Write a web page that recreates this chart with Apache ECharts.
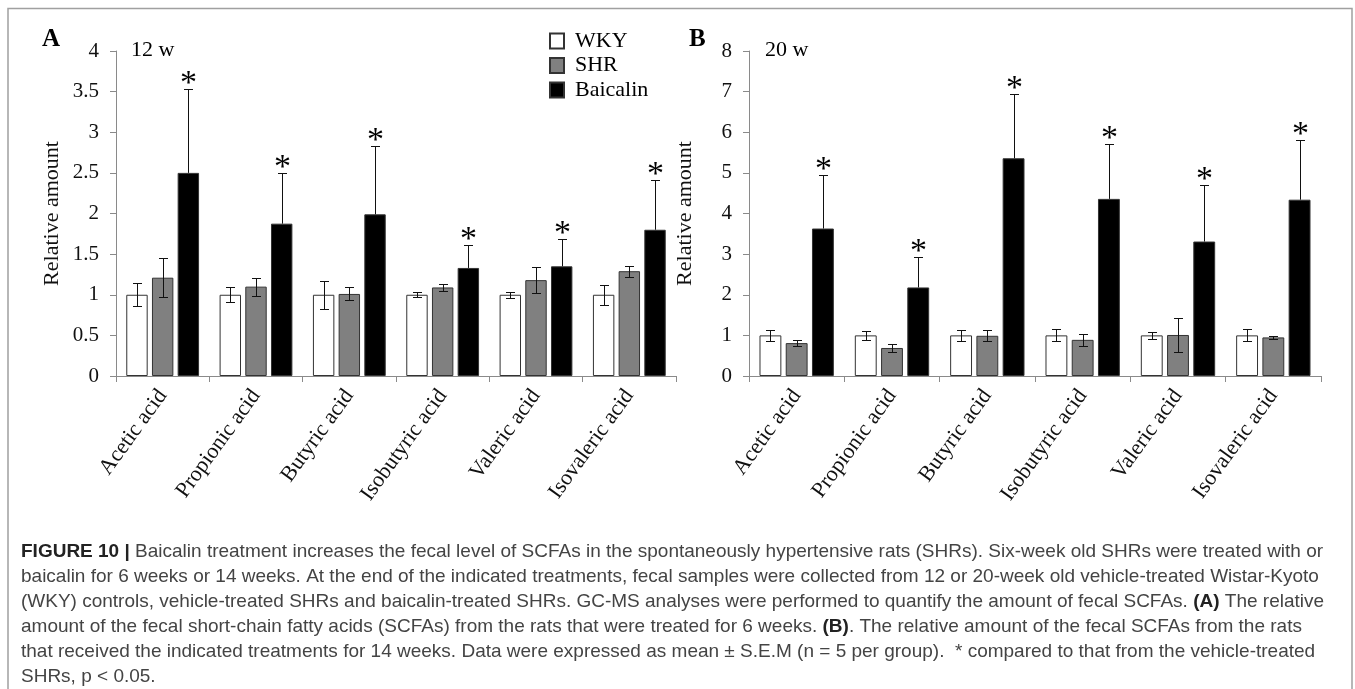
<!DOCTYPE html>
<html><head><meta charset="utf-8">
<script src="https://cdn.jsdelivr.net/npm/echarts@6/dist/echarts.min.js"></script>
<style>html,body{margin:0;padding:0;background:#fff}#c{width:1355px;height:689px}</style>
</head><body><div id="c"></div>
<script>
// ---------- data ----------
const categories = ['Acetic acid','Propionic acid','Butyric acid','Isobutyric acid','Valeric acid','Isovaleric acid'];
const groups = ['WKY','SHR','Baicalin'];

// Panel A (12 w)
const wkyA      = [1.00, 1.00, 1.00, 1.00, 1.00, 1.00];
const wkyA_sem  = [0.14, 0.09, 0.17, 0.03, 0.04, 0.12];
const shrA      = [1.21, 1.10, 1.01, 1.09, 1.18, 1.29];
const shrA_sem  = [0.24, 0.11, 0.08, 0.04, 0.16, 0.07];
const baiA      = [2.50, 1.875, 1.99, 1.33, 1.35, 1.80];
const baiA_sem  = [1.03, 0.625, 0.84, 0.28, 0.34, 0.61];
const starA     = [1, 1, 1, 1, 1, 1];

// Panel B (20 w)
const wkyB      = [1.00, 1.00, 1.00, 1.00, 1.00, 1.00];
const wkyB_sem  = [0.13, 0.11, 0.13, 0.15, 0.08, 0.15];
const shrB      = [0.81, 0.69, 0.99, 0.89, 1.01, 0.95];
const shrB_sem  = [0.07, 0.10, 0.14, 0.15, 0.42, 0.04];
const baiB      = [3.63, 2.18, 5.36, 4.36, 3.31, 4.34];
const baiB_sem  = [1.31, 0.75, 1.57, 1.36, 1.39, 1.46];
const starB     = [1, 1, 1, 1, 1, 1];

const yMaxA = 4, yStepA = 0.5;
const yMaxB = 8, yStepB = 1;

const captionLines = [
  '{b|FIGURE 10 |} Baicalin treatment increases the fecal level of SCFAs in the spontaneously hypertensive rats (SHRs). Six-week old SHRs were treated with or',
  'baicalin for 6 weeks or 14 weeks. At the end of the indicated treatments, fecal samples were collected from 12 or 20-week old vehicle-treated Wistar-Kyoto',
  '(WKY) controls, vehicle-treated SHRs and baicalin-treated SHRs. GC-MS analyses were performed to quantify the amount of fecal SCFAs. {b|(A)} The relative',
  'amount of the fecal short-chain fatty acids (SCFAs) from the rats that were treated for 6 weeks. {b|(B)}. The relative amount of the fecal SCFAs from the rats',
  'that received the indicated treatments for 14 weeks. Data were expressed as mean \u00b1 S.E.M (n = 5 per group).  * compared to that from the vehicle-treated',
  'SHRs, p < 0.05.'
];

// ---------- styling ----------
const SERIF = '"Liberation Serif","Times New Roman",serif';
const SANS = '"Liberation Sans",Arial,sans-serif';
const BAR_CAT_GAP = 0.22, BAR_GAP = 0.2;
const fills = ['#ffffff', '#808080', '#000000'];

function errData(means, sems, stars) {
  const out = [];
  means.forEach((m, gi) => {
    m.forEach((v, ci) => out.push([ci, gi, v, sems[gi][ci], gi === 2 ? stars[ci] : 0]));
  });
  return out;
}

function errRender(params, api) {
  const cat = api.value(0), g = api.value(1), mean = api.value(2), sem = api.value(3), star = api.value(4);
  const catW = api.size([1, 0])[0];
  const barW = catW * (1 - BAR_CAT_GAP) / (3 + 2 * BAR_GAP);
  const x = Math.round(api.coord([cat, 0])[0] + (g - 1) * barW * (1 + BAR_GAP)) + 0.5;
  const yTop = Math.round(api.coord([cat, mean + sem])[1]) + 0.5;
  const yMid = api.coord([cat, mean])[1];
  const yBot = Math.round(api.coord([cat, mean - sem])[1]) + 0.5;
  const cap = 4.5;
  const st = { stroke: '#111', lineWidth: 1 };
  const ch = [];
  ch.push({ type: 'line', shape: { x1: x, y1: yTop, x2: x, y2: g === 2 ? yMid : yBot }, style: st });
  ch.push({ type: 'line', shape: { x1: x - cap, y1: yTop, x2: x + cap, y2: yTop }, style: st });
  if (g !== 2) ch.push({ type: 'line', shape: { x1: x - cap, y1: yBot, x2: x + cap, y2: yBot }, style: st });
  if (star) ch.push({ type: 'text', style: { text: '*', x: x, y: yTop - 5, align: 'center', verticalAlign: 'middle', fontSize: 34, fontFamily: SERIF, fill: '#000' } });
  return { type: 'group', children: ch };
}

function xAxis(gi) {
  return {
    type: 'category', gridIndex: gi, data: categories,
    axisLine: { lineStyle: { color: '#8a8a8a', width: 1 } },
    axisTick: { show: true, length: 6, lineStyle: { color: '#8a8a8a' } },
    axisLabel: { interval: 0, rotate: 54, margin: 16, fontFamily: SERIF, fontSize: 22, color: '#111' },
    splitLine: { show: false }
  };
}
function yAxis(gi, max, step) {
  return {
    type: 'value', gridIndex: gi, min: 0, max: max, interval: step,
    name: 'Relative amount', nameLocation: 'middle', nameGap: 53,
    nameTextStyle: { fontFamily: SERIF, fontSize: 22, color: '#111' },
    axisLine: { show: true, lineStyle: { color: '#8a8a8a', width: 1 } },
    axisTick: { show: true, length: 6, lineStyle: { color: '#8a8a8a' } },
    axisLabel: { margin: 17, fontFamily: SERIF, fontSize: 21, color: '#111' },
    splitLine: { show: false }
  };
}
function bars(gi, vals, k) {
  return {
    type: 'bar', name: groups[k], xAxisIndex: gi, yAxisIndex: gi, data: vals,
    barCategoryGap: (BAR_CAT_GAP * 100) + '%', barGap: (BAR_GAP * 100) + '%',
    itemStyle: { color: fills[k], borderColor: '#333', borderWidth: 1 },
    emphasis: { disabled: true }, animation: false
  };
}

const chart = echarts.init(document.getElementById('c'), null, { renderer: 'canvas' });

const graphic = [
  { type: 'rect', shape: { x: 8, y: 8.5, width: 1344, height: 700 }, style: { fill: 'none', stroke: '#a0a0a0', lineWidth: 1.5 }, silent: true },
  { type: 'text', style: { text: 'A', x: 42, y: 40, verticalAlign: 'middle', fontSize: 25, fontWeight: 'bold', fontFamily: SERIF, fill: '#000' } },
  { type: 'text', style: { text: 'B', x: 689, y: 40, verticalAlign: 'middle', fontSize: 25, fontWeight: 'bold', fontFamily: SERIF, fill: '#000' } },
  { type: 'text', style: { text: '12 w', x: 131, y: 50, verticalAlign: 'middle', fontSize: 22, fontFamily: SERIF, fill: '#000' } },
  { type: 'text', style: { text: '20 w', x: 765, y: 50, verticalAlign: 'middle', fontSize: 22, fontFamily: SERIF, fill: '#000' } }
];
captionLines.forEach((t, i) => {
  graphic.push({
    type: 'text', silent: true,
    style: {
      text: t, x: 21, y: 552 + i * 25, verticalAlign: 'middle',
      fontSize: 19, fontFamily: SANS, fill: '#444',
      rich: { b: { fontWeight: 'bold', fontSize: 19, fontFamily: SANS, fill: '#222' } }
    }
  });
});

chart.setOption({
  animation: false,
  backgroundColor: '#fff',
  legend: {
    data: groups, orient: 'vertical', left: 544, top: 25,
    itemWidth: 14, itemHeight: 15, itemGap: 2.5, icon: 'rect',
    textStyle: { fontFamily: SERIF, fontSize: 22, color: '#000', padding: [0, 0, 0, 6] },
    selectedMode: false
  },
  grid: [
    { left: 116, top: 51, width: 560, height: 325 },
    { left: 749, top: 51, width: 572, height: 325 }
  ],
  xAxis: [xAxis(0), xAxis(1)],
  yAxis: [yAxis(0, yMaxA, yStepA), yAxis(1, yMaxB, yStepB)],
  series: [
    bars(0, wkyA, 0), bars(0, shrA, 1), bars(0, baiA, 2),
    bars(1, wkyB, 0), bars(1, shrB, 1), bars(1, baiB, 2),
    { type: 'custom', xAxisIndex: 0, yAxisIndex: 0, renderItem: errRender, z: 5, silent: true,
      encode: { x: 0, y: 2 }, data: errData([wkyA, shrA, baiA], [wkyA_sem, shrA_sem, baiA_sem], starA) },
    { type: 'custom', xAxisIndex: 1, yAxisIndex: 1, renderItem: errRender, z: 5, silent: true,
      encode: { x: 0, y: 2 }, data: errData([wkyB, shrB, baiB], [wkyB_sem, shrB_sem, baiB_sem], starB) }
  ],
  graphic: graphic
});
</script></body></html>
